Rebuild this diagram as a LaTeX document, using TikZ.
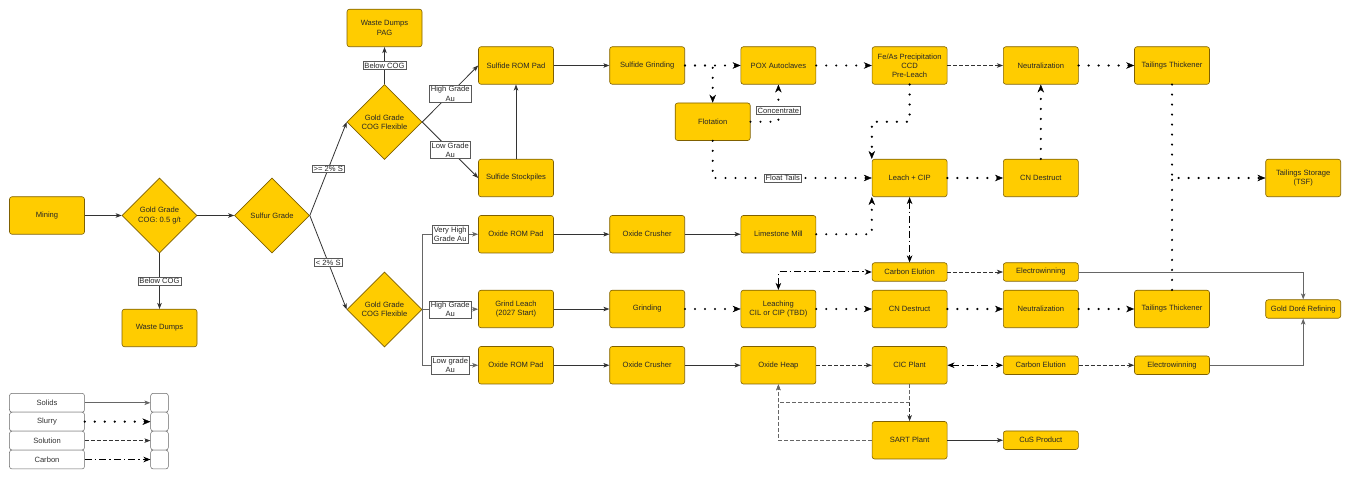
\documentclass[tikz,border=0pt]{standalone}
\usepackage{fontspec}
\setmainfont{Liberation Sans}
\usepackage{tikz}
\usetikzlibrary{shapes.geometric, arrows.meta}
\definecolor{gold}{HTML}{FFCC00}
\definecolor{goldedge}{HTML}{7F6000}
\definecolor{inkline}{HTML}{333333}
\definecolor{greyline}{HTML}{666666}
\tikzstyle{process} =
[rectangle, rounded corners=2.5pt, minimum width=75pt, minimum height=37.5pt,
text centered, align=center, inner sep=1pt, draw=goldedge, fill=gold,
text=black!85, line width=0.6pt]
\tikzstyle{smallprocess} = [process, minimum height=18.5pt]
\tikzstyle{decision} =
[diamond, aspect=1, minimum width=75pt, minimum height=75pt, inner sep=0pt,
text centered, align=center, draw=goldedge, fill=gold, text=black!85,
line width=0.6pt]
\tikzstyle{tag} =
[rectangle, solid, draw=black!65, fill=white, inner sep=1.2pt, align=center,
line width=0.4pt, text=black!85]
\tikzstyle{legendbox} =
[rectangle, rounded corners=2.5pt, minimum width=75pt, minimum height=18.9pt,
draw=black!60, fill=white, line width=0.5pt, text=black!80]
\tikzstyle{legendend} = [legendbox, minimum width=17.6pt]
\tikzstyle{solids} =
[draw=inkline, line width=0.8pt, -{Stealth[length=6pt,width=4.5pt,inset=1.5pt]}]
\tikzstyle{greyflow} = [solids, draw=greyline]
\tikzstyle{slurry} =
[draw=black, line width=2.4pt, line cap=round, dash pattern=on 0pt off 10pt,
-{Stealth[length=8pt,width=6.5pt,inset=2.5pt,line width=0.4pt]}]
\tikzstyle{solution} =
[draw=inkline, line width=0.7pt, dash pattern=on 4pt off 2pt,
-{Stealth[length=6pt,width=4.5pt,inset=1.5pt]}]
\tikzstyle{carbon} =
[draw=black, line width=1pt, dash pattern=on 7pt off 3pt on 1.5pt off 3pt,
-{Stealth[length=7pt,width=5.5pt,inset=2pt]}]
\tikzstyle{carbonboth} =
[carbon, {Stealth[length=7pt,width=5.5pt,inset=2pt]}-{Stealth[length=7pt,width=5.5pt,inset=2pt]}]

\begin{document}
\begin{tikzpicture}[node distance=131.2pt, font=\fontsize{7.6}{9.2}\selectfont]
  \useasboundingbox (-47pt,215.5pt) rectangle (1303pt,-262.5pt);
  % mine and grade decisions
  \node [process] (mining) {Mining};
  \node [decision, right of=mining, node distance=112.5pt] (cog)
   {Gold Grade\\COG: 0.5 g/t};
  \node [process, below of=cog, node distance=112.5pt] (waste) {Waste Dumps};
  \node [decision, right of=cog, node distance=112.5pt] (sulfur) {Sulfur Grade};
  \node [decision, right of=sulfur, node distance=112.5pt, yshift=93.5pt]
   (sulfidecog) {Gold Grade\\COG Flexible};
  \node [process, above of=sulfidecog, node distance=94pt] (pag)
   {Waste Dumps\\PAG};
  \node [decision, right of=sulfur, node distance=112.5pt, yshift=-94pt]
   (oxidecog) {Gold Grade\\COG Flexible};
  % decision edges
  \path [solids] (mining) -- (cog);
  \path [solids] (cog) -- (sulfur);
  \path [solids] (cog) -- node [tag] {Below COG} (waste);
  \path [solids] (sulfur.east) -- node [tag] {>= 2\% S} (sulfidecog.west);
  \path [solids] (sulfur.east) -- node [tag] {< 2\% S} (oxidecog.west);
  \path [solids] (sulfidecog) -- node [tag] {Below COG} (pag);
  %
  % sulfide nodes
  \node [process, right of=sulfidecog, node distance=131.5pt, yshift=56.5pt]
   (sulfrom) {Sulfide ROM Pad};
  \node [process, below of=sulfrom, node distance=112.5pt] (sulfstock)
   {Sulfide Stockpiles};
  \node [process, right of=sulfrom] (sulfgrind) {Sulfide Grinding};
  \node [process, right of=sulfgrind] (pox) {POX Autoclaves};
  \node [process, below of=sulfgrind, node distance=56.25pt, xshift=65.5pt]
   (flot) {Flotation};
  \node [process, right of=pox] (feas) {Fe/As Precipitation\\CCD\\Pre-Leach};
  \node [process, right of=feas] (neutup) {Neutralization};
  \node [process, right of=neutup] (thickup) {Tailings Thickener};
  \node [process, below of=feas, node distance=112.5pt] (leach) {Leach + CIP};
  \node [process, right of=leach] (cnup) {CN Destruct};
  \node [process, right of=cnup, node distance=262.4pt] (tsf)
   {Tailings Storage\\(TSF)};
  % sulfide edges
  \path [solids] (sulfidecog.east) -- node [tag] {High Grade\\Au} (sulfrom.west);
  \path [solids] (sulfidecog.east) -- node [tag] {Low Grade\\Au} (sulfstock.west);
  \path [solids] (sulfstock) -- (sulfrom);
  \path [solids] (sulfrom) -- (sulfgrind);
  \path [slurry] (sulfgrind) -- (pox);
  \path [slurry] (sulfgrind) -| (flot);
  \path [slurry] (flot) -| node [tag, pos=0.65] {Concentrate} (pox);
  \path [slurry] (flot) |- node [tag, pos=0.72] {Float Tails} (leach);
  \path [slurry] (pox) -- (feas);
  \path [solution] (feas) -- (neutup);
  \path [slurry] (feas) -- (feas |- flot) -| (leach.north west);
  \path [slurry] (leach) -- (cnup);
  \path [slurry] (cnup) -- (neutup);
  \path [slurry] (neutup) -- (thickup);
  \path [slurry] (thickup) |- (tsf);
  %
  % oxide nodes
  \node [process, below of=sulfstock, node distance=56.25pt] (oxrom)
   {Oxide ROM Pad};
  \node [process, right of=oxrom] (oxcrush) {Oxide Crusher};
  \node [process, right of=oxcrush] (lime) {Limestone Mill};
  \node [smallprocess, below of=leach, node distance=94pt] (eluteup)
   {Carbon Elution};
  \node [smallprocess, right of=eluteup] (ewup) {Electrowinning};
  \node [process, below of=oxrom, node distance=74.75pt] (grindleach)
   {Grind Leach\\(2027 Start)};
  \node [process, right of=grindleach] (grinding) {Grinding};
  \node [process, right of=grinding] (leaching) {Leaching\\CIL or CIP (TBD)};
  \node [process, right of=leaching] (cnlow) {CN Destruct};
  \node [process, right of=cnlow] (neutlow) {Neutralization};
  \node [process, right of=neutlow] (thicklow) {Tailings Thickener};
  \node [smallprocess, right of=thicklow] (dore) {Gold Doré Refining};
  \node [process, below of=grindleach, node distance=56.25pt] (oxrom2)
   {Oxide ROM Pad};
  \node [process, right of=oxrom2] (oxcrush2) {Oxide Crusher};
  \node [process, right of=oxcrush2] (heap) {Oxide Heap};
  \node [process, right of=heap] (cic) {CIC Plant};
  \node [smallprocess, right of=cic] (elutelow) {Carbon Elution};
  \node [smallprocess, right of=elutelow] (ewlow) {Electrowinning};
  \node [process, below of=cic, node distance=75pt] (sart) {SART Plant};
  \node [smallprocess, right of=sart] (cus) {CuS Product};
  % oxide edges
  \path [greyflow] (oxidecog.east) |- node [tag, pos=0.75]
   {Very High\\Grade Au} (oxrom);
  \path [greyflow] (oxidecog.east) -- node [tag] {High Grade\\Au} (grindleach);
  \path [greyflow] (oxidecog.east) |- node [tag, pos=0.75]
   {Low grade\\Au} (oxrom2);
  \path [solids] (oxrom) -- (oxcrush);
  \path [solids] (oxcrush) -- (lime);
  \path [slurry] (lime) -| (leach.south west);
  \path [carbonboth] (leach) -- (eluteup);
  \path [carbonboth] (leaching) |- (eluteup);
  \path [solution] (eluteup) -- (ewup);
  \path [greyflow] (ewup) -| (dore);
  \path [solids] (grindleach) -- (grinding);
  \path [slurry] (grinding) -- (leaching);
  \path [slurry] (leaching) -- (cnlow);
  \path [slurry] (cnlow) -- (neutlow);
  \path [slurry] (neutlow) -- (thicklow);
  \path [slurry, -] (thicklow) -- (thicklow |- tsf);
  \path [solids] (oxrom2) -- (oxcrush2);
  \path [solids] (oxcrush2) -- (heap);
  \path [solution] (heap) -- (cic);
  \path [carbonboth] (cic) -- (elutelow);
  \path [solution] (elutelow) -- (ewlow);
  \path [greyflow] (ewlow) -| (dore);
  \path [solution] (cic) -- (sart);
  \path [solution, draw=greyline] (cic.south) -- ++(0,-18.5pt) -| (heap.south);
  \path [solution, draw=greyline] (sart) -| (heap.south);
  \path [solids] (sart) -- (cus);
  %
  % legend
  \node [legendbox, below of=mining, node distance=187.3pt] (legsolids) {Solids};
  \node [legendbox, below of=legsolids, node distance=18.9pt] (legslurry)
   {Slurry};
  \node [legendbox, below of=legslurry, node distance=18.9pt] (legsolution)
   {Solution};
  \node [legendbox, below of=legsolution, node distance=18.9pt] (legcarbon)
   {Carbon};
  \node [legendend, right of=legsolids, node distance=112.5pt] (endsolids) {};
  \node [legendend, right of=legslurry, node distance=112.5pt] (endslurry) {};
  \node [legendend, right of=legsolution, node distance=112.5pt] (endsolution) {};
  \node [legendend, right of=legcarbon, node distance=112.5pt] (endcarbon) {};
  \path [greyflow] (legsolids) -- (endsolids);
  \path [slurry] (legslurry) -- (endslurry);
  \path [solution] (legsolution) -- (endsolution);
  \path [carbon] (legcarbon) -- (endcarbon);
\end{tikzpicture}
\end{document}
